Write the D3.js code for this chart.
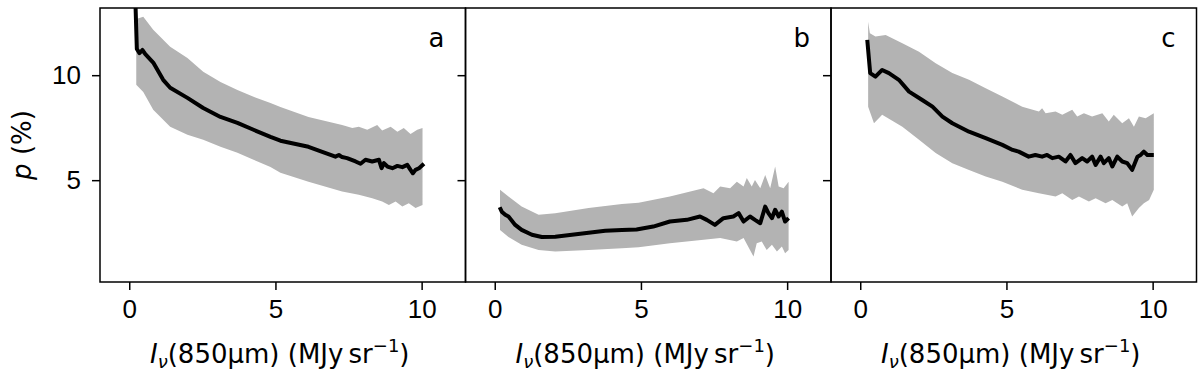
<!DOCTYPE html>
<html>
<head>
<meta charset="utf-8">
<script src="https://cdn.jsdelivr.net/npm/d3@7"></script>
<style>
  body { margin: 0; background: white; }
  svg { font-family: "DejaVu Sans", sans-serif; }
  .axis path, .axis line { stroke: black; stroke-width: 1.5px; }
  .axis text { font-size: 26px; fill: black; }
</style>
</head>
<body>
<div id="chart"></div>
<script>
/* Polarisation fraction p versus 850um intensity, three panels (a, b, c).
 * Grey band = spread, black line = running mean. */

// panel a
var aLineX = [0.20, 0.26, 0.35, 0.45, 0.55, 0.82, 1.16, 1.40, 1.99, 2.53, 3.12, 3.70, 4.25, 4.83, 5.17, 6.13, 6.60, 7.05, 7.17, 7.28, 7.45, 7.74, 7.91, 8.08, 8.31, 8.54, 8.63, 8.71, 8.83, 9.00, 9.17, 9.34, 9.51, 9.62, 9.70, 9.79, 9.91, 10.08];
var aLineP = [14.0, 11.25, 11.05, 11.2, 11.0, 10.6, 9.78, 9.40, 8.92, 8.44, 8.01, 7.73, 7.40, 7.06, 6.88, 6.59, 6.35, 6.12, 6.20, 6.10, 6.05, 5.89, 5.78, 5.97, 5.89, 5.97, 5.57, 5.81, 5.65, 5.57, 5.68, 5.62, 5.73, 5.49, 5.33, 5.49, 5.57, 5.78];
var aHiX = [0.24, 0.48, 0.82, 1.40, 1.99, 2.53, 3.12, 3.70, 4.25, 4.83, 5.17, 6.13, 7.28, 7.63, 7.85, 8.14, 8.48, 8.65, 8.94, 9.17, 9.39, 9.62, 9.85, 10.03];
var aHi = [12.68, 12.78, 12.16, 11.35, 10.82, 10.16, 9.68, 9.30, 8.97, 8.68, 8.49, 8.01, 7.63, 7.48, 7.55, 7.40, 7.63, 7.36, 7.55, 7.31, 7.48, 7.20, 7.40, 7.48];
var aLoX = [0.24, 0.48, 0.82, 1.40, 1.99, 2.53, 3.12, 3.70, 4.25, 4.83, 5.17, 6.13, 7.28, 7.85, 8.31, 8.65, 8.88, 9.11, 9.34, 9.56, 9.79, 10.03];
var aLo = [9.54, 9.20, 8.35, 7.54, 7.16, 6.92, 6.59, 6.30, 5.97, 5.63, 5.35, 4.92, 4.46, 4.30, 4.14, 3.98, 3.82, 3.98, 3.74, 3.90, 3.67, 3.82];

// panel b
var bLineX = [0.17, 0.24, 0.36, 0.47, 0.70, 0.92, 1.27, 1.61, 2.07, 2.64, 3.21, 3.78, 4.35, 4.85, 5.42, 5.99, 6.57, 7.02, 7.25, 7.53, 7.82, 8.16, 8.34, 8.51, 8.73, 8.90, 9.08, 9.25, 9.36, 9.48, 9.59, 9.71, 9.82, 9.93, 10.05];
var bLineP = [3.71, 3.50, 3.35, 3.27, 2.87, 2.63, 2.40, 2.29, 2.31, 2.40, 2.50, 2.59, 2.63, 2.65, 2.79, 3.03, 3.11, 3.27, 3.11, 2.87, 3.19, 3.27, 3.43, 3.03, 3.27, 3.11, 2.95, 3.74, 3.43, 3.19, 3.59, 3.27, 3.50, 3.03, 3.19];
var bHiX = [0.18, 0.47, 0.92, 1.50, 2.07, 3.21, 4.35, 4.92, 5.99, 7.14, 7.48, 7.71, 8.05, 8.28, 8.51, 8.62, 8.79, 8.90, 9.08, 9.25, 9.42, 9.59, 9.71, 9.88, 10.05];
var bHi = [4.54, 4.22, 3.74, 3.35, 3.43, 3.67, 3.87, 3.93, 4.22, 4.62, 4.38, 4.70, 4.62, 4.93, 4.70, 5.10, 4.70, 5.01, 4.62, 5.25, 4.62, 5.65, 4.70, 4.62, 4.93];
var bLoX = [0.18, 0.47, 0.92, 1.50, 2.07, 3.21, 4.35, 4.92, 5.99, 7.14, 7.71, 8.28, 8.51, 8.73, 8.85, 8.96, 9.13, 9.30, 9.48, 9.65, 9.82, 9.93, 10.05];
var bLo = [2.63, 2.29, 1.92, 1.68, 1.60, 1.68, 1.76, 1.81, 2.00, 2.16, 2.24, 2.08, 2.24, 1.68, 1.36, 2.00, 2.08, 1.68, 1.92, 1.60, 1.84, 1.52, 1.68];

// panel c
var cLineX = [0.24, 0.34, 0.52, 0.75, 0.98, 1.32, 1.67, 2.12, 2.47, 2.81, 3.15, 3.72, 4.29, 4.86, 5.21, 5.42, 5.76, 5.99, 6.22, 6.39, 6.57, 6.79, 7.02, 7.19, 7.36, 7.59, 7.76, 7.93, 8.05, 8.22, 8.33, 8.50, 8.62, 8.79, 8.96, 9.13, 9.30, 9.48, 9.59, 9.70, 9.82, 10.04];
var cLineP = [11.68, 10.10, 9.93, 10.25, 10.10, 9.78, 9.22, 8.82, 8.50, 8.03, 7.71, 7.31, 7.00, 6.68, 6.44, 6.36, 6.12, 6.20, 6.12, 6.20, 6.05, 6.12, 5.89, 6.20, 5.81, 6.05, 5.89, 6.12, 5.73, 6.12, 5.81, 6.05, 5.65, 6.12, 5.89, 5.81, 5.49, 6.12, 6.20, 6.36, 6.20, 6.20];
var cHiX = [0.27, 0.33, 0.52, 0.87, 1.44, 2.01, 2.58, 3.15, 3.72, 4.29, 4.86, 5.54, 6.11, 6.22, 6.34, 6.68, 6.91, 7.25, 7.42, 7.65, 7.93, 8.28, 8.50, 8.67, 8.96, 9.19, 9.36, 9.53, 9.76, 10.04];
var cHi = [12.55, 12.0, 11.84, 11.92, 11.52, 11.12, 10.57, 10.10, 9.78, 9.38, 8.98, 8.50, 8.27, 8.43, 8.19, 8.27, 8.11, 8.35, 8.03, 8.19, 8.03, 8.19, 7.79, 8.11, 7.71, 7.95, 7.55, 8.03, 7.95, 8.19];
var cLoX = [0.27, 0.47, 0.75, 1.44, 2.01, 2.58, 3.15, 3.72, 4.29, 4.86, 5.54, 6.11, 6.68, 6.91, 7.25, 7.48, 7.82, 8.05, 8.39, 8.62, 8.96, 9.13, 9.30, 9.53, 9.70, 9.88, 10.04];
var cLo = [8.50, 7.71, 8.11, 7.55, 6.92, 6.29, 5.81, 5.49, 5.17, 4.93, 4.54, 4.38, 4.22, 4.38, 4.06, 4.22, 3.98, 4.14, 3.90, 4.06, 3.74, 3.90, 3.27, 3.67, 3.90, 4.06, 4.54];

var panelNames = ["a", "b", "c"];
var xTicks = [0, 5, 10];
var yTicks = [5, 10];
var xDomain = [-1, 11.5];
var yDomain = [0.15, 13.2];

var panels = [
    {name: panelNames[0], lx: aLineX, lp: aLineP, hx: aHiX, hp: aHi, ox: aLoX, op: aLo},
    {name: panelNames[1], lx: bLineX, lp: bLineP, hx: bHiX, hp: bHi, ox: bLoX, op: bLo},
    {name: panelNames[2], lx: cLineX, lp: cLineP, hx: cHiX, hp: cHi, ox: cLoX, op: cLo}
];

var margin = {top: 8, left: 100};
var panelW = 365.5,
    panelH = 274;

var svg = d3.select("#chart").append("svg")
    .attr("width", 1200)
    .attr("height", 376);

var x = d3.scaleLinear().domain(xDomain).range([0, panelW]);
var y = d3.scaleLinear().domain(yDomain).range([panelH, 0]);

var line = d3.line()
    .x(function(d) { return x(d[0]); })
    .y(function(d) { return y(d[1]); });

panels.forEach(function(p, i) {
    var g = svg.append("g")
        .attr("transform", "translate(" + (margin.left + i * panelW) + "," + margin.top + ")");

    g.append("clipPath")
        .attr("id", "clip-" + p.name)
        .append("rect")
        .attr("width", panelW)
        .attr("height", panelH);

    var plot = g.append("g").attr("clip-path", "url(#clip-" + p.name + ")");

    // band: upper edge forward, lower edge back
    var hi = p.hx.map(function(v, k) { return [v, p.hp[k]]; });
    var lo = p.ox.map(function(v, k) { return [v, p.op[k]]; }).reverse();
    plot.append("path")
        .attr("d", line(hi.concat(lo)) + "Z")
        .attr("fill", "#b3b3b3")
        .attr("stroke", "none");

    plot.append("path")
        .attr("d", line(p.lx.map(function(v, k) { return [v, p.lp[k]]; })))
        .attr("fill", "none")
        .attr("stroke", "black")
        .attr("stroke-width", 4)
        .attr("stroke-linejoin", "round");

    // x axis
    g.append("g")
        .attr("class", "axis")
        .attr("transform", "translate(0," + panelH + ")")
        .call(d3.axisBottom(x).tickValues(xTicks).tickSize(8).tickPadding(10).tickFormat(d3.format("d")))
        .call(function(s) { s.select(".domain").remove(); });

    // y axis, labels only on first panel
    g.append("g")
        .attr("class", "axis")
        .call(d3.axisLeft(y).tickValues(yTicks).tickSize(8).tickPadding(11)
            .tickFormat(i === 0 ? d3.format("d") : function() { return ""; }))
        .call(function(s) { s.select(".domain").remove(); });

    // frame
    g.append("rect")
        .attr("width", panelW)
        .attr("height", panelH)
        .attr("fill", "none")
        .attr("stroke", "black")
        .attr("stroke-width", 1.5);

    g.append("text")
        .attr("x", panelW - 21)
        .attr("y", 39)
        .attr("text-anchor", "end")
        .style("font-size", "26px")
        .text(p.name);

    // x label
    var lab = g.append("text")
        .attr("x", panelW / 2 - 3)
        .attr("y", 355)
        .attr("text-anchor", "middle")
        .style("font-size", "26px");
    lab.append("tspan").style("font-style", "italic").text("I");
    lab.append("tspan").style("font-style", "italic").style("font-size", "18px")
        .attr("dy", 5).text("\u03bd");
    lab.append("tspan").attr("dy", -5).text("(850\u00b5m) (MJy\u2009sr");
    lab.append("tspan").style("font-size", "18px").attr("dy", -11).text("\u22121");
    lab.append("tspan").attr("dy", 11).text(")");
});

// y label
var ylab = svg.append("text")
    .attr("text-anchor", "middle")
    .attr("transform", "translate(31," + (margin.top + panelH / 2) + ")rotate(-90)")
    .style("font-size", "26px");
ylab.append("tspan").style("font-style", "italic").text("p");
ylab.append("tspan").text(" (%)");
</script>
</body>
</html>
